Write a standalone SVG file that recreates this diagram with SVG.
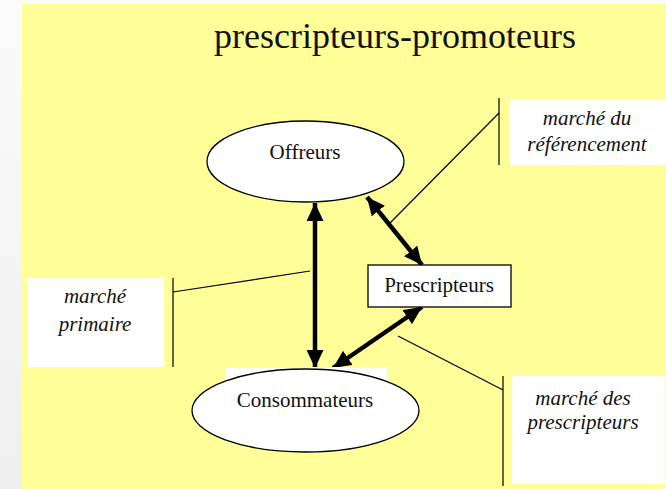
<svg xmlns="http://www.w3.org/2000/svg" width="666" height="489" viewBox="0 0 666 489">
<defs>
<linearGradient id="bg" x1="0" y1="0" x2="0" y2="1">
<stop offset="0" stop-color="#fbfbfb"/>
<stop offset="1" stop-color="#efefef"/>
</linearGradient>
<marker id="ah" markerUnits="userSpaceOnUse" markerWidth="18" markerHeight="17" refX="18" refY="8.5" orient="auto-start-reverse" viewBox="0 0 18 17">
<path d="M0,0 L18,8.5 L0,17 z" fill="#000"/>
</marker>
<style>
.shape{fill:#fff;stroke:#000;stroke-width:1.3}
.lbl{font-family:"Liberation Serif","Times New Roman",serif;font-size:21px;fill:#111;text-anchor:middle}
.it{font-style:italic}
.arr{stroke:#000;stroke-width:4.5;fill:none;marker-start:url(#ah);marker-end:url(#ah)}
.thin{stroke:#000;stroke-width:1.2;fill:none}
.box{fill:#fff}
</style>
</defs>
<rect x="0" y="0" width="666" height="489" fill="url(#bg)"/>
<rect x="22" y="4" width="644" height="485" fill="#ffff99"/>
<text x="395" y="48" class="lbl" style="font-size:36px">prescripteurs-promoteurs</text>

<g id="connectors">
<line class="arr" x1="315" y1="203" x2="315" y2="368"/>
<line class="arr" x1="367" y1="197" x2="422" y2="265"/>
<line class="arr" x1="422" y1="307" x2="333" y2="368"/>
<line class="thin" x1="173" y1="278" x2="173" y2="367"/>
<line class="thin" x1="173" y1="292" x2="310" y2="271"/>
<line class="thin" x1="499" y1="98" x2="499" y2="165"/>
<line class="thin" x1="499" y1="113" x2="390" y2="223"/>
<line class="thin" x1="503" y1="376" x2="503" y2="486"/>
<line class="thin" x1="503" y1="390" x2="398" y2="336"/>
</g>

<g id="offreurs">
<ellipse class="shape" cx="305.5" cy="161.5" rx="98.5" ry="40.5"/>
<text x="305" y="159" class="lbl">Offreurs</text>
</g>

<g id="consommateurs">
<rect class="box" x="226" y="367" width="161" height="20"/>
<ellipse class="shape" cx="305.5" cy="410.5" rx="113.5" ry="41.5"/>
<text x="305" y="407" class="lbl">Consommateurs</text>
</g>

<g id="prescripteurs">
<rect class="shape" x="368" y="265" width="143" height="42"/>
<text x="439" y="292" class="lbl">Prescripteurs</text>
</g>

<g id="marche-primaire">
<rect class="box" x="27" y="278" width="137" height="89"/>
<text x="95" y="303" class="lbl it">marché</text>
<text x="95" y="331" class="lbl it">primaire</text>
</g>

<g id="marche-referencement">
<rect class="box" x="509" y="99" width="157" height="66"/>
<text x="587" y="125" class="lbl it">marché du</text>
<text x="587" y="151" class="lbl it">référencement</text>
</g>

<g id="marche-prescripteurs">
<rect class="box" x="512" y="376" width="153" height="108"/>
<text x="583" y="405" class="lbl it">marché des</text>
<text x="583" y="429" class="lbl it">prescripteurs</text>
</g>
</svg>
